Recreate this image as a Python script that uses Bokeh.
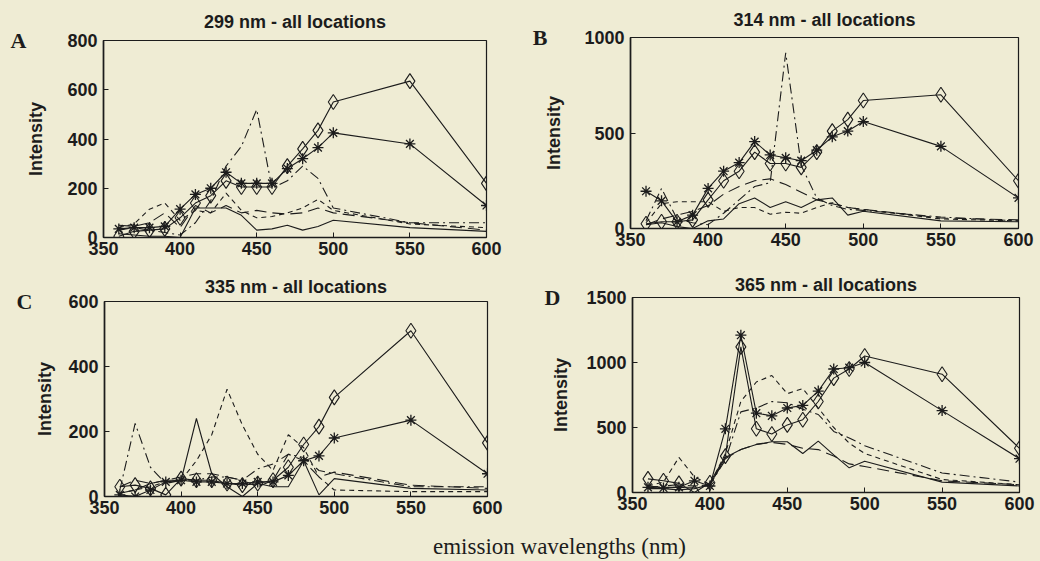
import math
from bokeh.plotting import figure
from bokeh.models import FixedTicker, Div, Range1d, LinearAxis
from bokeh.layouts import column, row
from bokeh.embed import file_html
from bokeh.resources import INLINE

# ---------------- data ----------------
wl = [360, 370, 380, 390, 400, 410, 420, 430, 440, 450, 460, 470, 480, 490, 500, 550, 600]
x_ticks = [350, 400, 450, 500, 550, 600]

titles = ["299 nm - all locations", "314 nm - all locations",
          "335 nm - all locations", "365 nm - all locations"]
letters = ["A", "B", "C", "D"]
y_max = [800, 1000, 600, 1500]
y_ticks = [[0, 200, 400, 600, 800], [0, 500, 1000], [0, 200, 400, 600], [0, 500, 1000, 1500]]

# panel A (299 nm)
a_diamond = [5, 25, 30, 35, 80, 140, 170, 230, 205, 205, 205, 290, 360, 435, 550, 635, 220]
a_star = [35, 40, 40, 45, 115, 175, 200, 265, 220, 220, 220, 280, 320, 365, 425, 380, 130]
a_solid = [15, 10, 5, 5, 0, 120, 120, 120, 90, 30, 35, 50, 30, 45, 70, 40, 25]
a_dashed = [40, 55, 115, 140, 70, 110, 100, 180, 110, 80, 85, 100, 120, 155, 110, 55, 40]
a_dashdot = [30, 40, 30, 20, 10, 60, 150, 290, 370, 520, 200, 230, 290, 240, 120, 60, 60]
a_longdash = [50, 45, 60, 100, 40, 130, 100, 130, 100, 110, 100, 95, 100, 120, 100, 60, 30]

# panel B (314 nm)
b_diamond = [25, 35, 35, 45, 150, 250, 300, 400, 340, 340, 320, 400, 510, 570, 670, 700, 250]
b_star = [195, 145, 35, 70, 210, 300, 345, 455, 385, 370, 355, 410, 480, 510, 560, 430, 160]
b_solid = [20, 30, 10, 0, 40, 50, 130, 160, 110, 140, 110, 150, 160, 70, 90, 40, 35]
b_dashed = [30, 130, 140, 140, 140, 90, 110, 110, 75, 85, 80, 110, 135, 110, 100, 50, 40]
b_dashdot = [40, 210, 50, 30, 20, 80, 150, 220, 240, 920, 330, 160, 120, 100, 95, 60, 40]
b_longdash = [20, 50, 70, 90, 120, 180, 220, 250, 260, 230, 190, 150, 130, 110, 100, 55, 45]

# panel C (335 nm)
c_diamond = [30, 35, 25, 5, 55, 50, 50, 40, 35, 40, 50, 90, 160, 215, 305, 510, 165]
c_star = [5, 0, 20, 45, 50, 45, 45, 40, 40, 45, 45, 65, 110, 125, 180, 235, 70]
c_solid = [10, 20, 40, 50, 50, 240, 70, 30, 0, 40, 30, 30, 110, 5, 55, 25, 20]
c_dashed = [10, 20, 30, 45, 50, 110, 190, 330, 220, 130, 80, 190, 150, 60, 20, 15, 15]
c_dashdot = [20, 225, 90, 40, 50, 50, 60, 60, 50, 85, 100, 130, 120, 80, 70, 30, 30]
c_longdash = [30, 50, 40, 50, 60, 70, 70, 60, 50, 30, 50, 130, 110, 60, 75, 35, 25]

# panel D (365 nm)
d_diamond = [105, 90, 70, 0, 75, 280, 1120, 490, 450, 520, 560, 700, 880, 950, 1050, 910, 340]
d_star = [40, 35, 40, 90, 50, 490, 1210, 610, 590, 650, 670, 780, 950, 960, 1000, 630, 260]
d_solid = [30, 30, 20, 30, 60, 270, 330, 370, 390, 390, 300, 395, 290, 190, 240, 80, 50]
d_dashed = [50, 80, 270, 120, 60, 300, 700, 850, 900, 760, 800, 650, 500, 380, 300, 100, 60]
d_dashdot = [40, 50, 60, 50, 60, 250, 620, 650, 700, 690, 640, 600, 470, 420, 360, 150, 80]
d_longdash = [50, 40, 40, 40, 60, 260, 330, 370, 385, 370, 340, 330, 280, 220, 200, 90, 60]

panels = [
    (a_diamond, a_star, a_solid, a_dashed, a_dashdot, a_longdash),
    (b_diamond, b_star, b_solid, b_dashed, b_dashdot, b_longdash),
    (c_diamond, c_star, c_solid, c_dashed, c_dashdot, c_longdash),
    (d_diamond, d_star, d_solid, d_dashed, d_dashdot, d_longdash),
]

# ---------------- styling / layout ----------------
BG = "#efecd4"
INK = "#1c1c1c"
SANS = "Liberation Sans"
SERIF = "Liberation Serif"

# (width, height, left, right, top, bottom)
geom = [
    (520, 270, 103, 34, 40, 33),
    (520, 270, 110, 22, 36, 42),
    (520, 261, 104, 33, 30, 35),
    (520, 261, 112, 21, 26, 39),
]
title_standoff = [18, 15, 9, 5]
letter_standoff = [-3, -6, 0, -12]
ylab_standoff = [18, 17, 10, 12]


def make_panel(i):
    w, h, bl, br, bt, bb = geom[i]
    ymax = y_max[i]
    p = figure(width=w, height=h, output_backend="svg", toolbar_location=None,
               x_range=Range1d(350, 600), y_range=Range1d(0, ymax),
               min_border_left=bl, min_border_right=br,
               min_border_top=bt, min_border_bottom=bb,
               background_fill_color=BG, border_fill_color=BG)
    p.frame_align = False
    p.grid.visible = False
    p.outline_line_color = INK
    p.outline_line_width = 1.2

    for ax in (p.xaxis[0], p.yaxis[0]):
        ax.axis_line_color = INK
        ax.axis_line_width = 1.6
        ax.major_tick_in = 5
        ax.major_tick_out = 0
        ax.minor_tick_line_color = None
        ax.major_tick_line_color = INK
        ax.major_label_text_font = SANS
        ax.major_label_text_font_size = "18px"
        ax.major_label_text_font_style = "bold"
        ax.major_label_text_color = INK
    p.xaxis[0].ticker = FixedTicker(ticks=x_ticks)
    p.yaxis[0].ticker = FixedTicker(ticks=y_ticks[i])
    p.xaxis[0].major_label_standoff = 4
    p.yaxis[0].major_label_standoff = 6

    yax = p.yaxis[0]
    yax.axis_label = "Intensity"
    yax.axis_label_text_font = SANS
    yax.axis_label_text_font_size = "18px"
    yax.axis_label_text_font_style = "bold"
    yax.axis_label_text_color = INK
    yax.axis_label_standoff = ylab_standoff[i]

    # panel letter: a bare outer axis whose only tick label sits at the frame top
    lax = LinearAxis(ticker=FixedTicker(ticks=[ymax]),
                     major_label_overrides={ymax: letters[i]},
                     axis_line_color=None, major_tick_line_color=None,
                     minor_tick_line_color=None, major_tick_in=0, major_tick_out=0,
                     major_label_standoff=letter_standoff[i],
                     major_label_text_font=SERIF, major_label_text_font_size="22px",
                     major_label_text_font_style="bold", major_label_text_color=INK)
    p.add_layout(lax, "left")

    diamond, star, solid, dashed, dashdot, longdash = panels[i]
    lw = 1.1
    p.line(wl, solid, line_color=INK, line_width=lw)
    p.line(wl, dashed, line_color=INK, line_width=lw, line_dash="5 4")
    p.line(wl, dashdot, line_color=INK, line_width=lw, line_dash="10 4 2 4")
    p.line(wl, longdash, line_color=INK, line_width=lw, line_dash="12 6")
    p.line(wl, diamond, line_color=INK, line_width=lw)
    p.scatter(wl, diamond, marker="diamond", size=15, line_color=INK,
              line_width=1.1, fill_alpha=0)
    p.line(wl, star, line_color=INK, line_width=lw)
    p.scatter(wl, star, marker="asterisk", size=11, line_color=INK, line_width=1.3)

    p.title.text = titles[i]
    p.title.align = "center"
    p.title.text_font = SANS
    p.title.text_font_size = "18px"
    p.title.text_font_style = "bold"
    p.title.text_color = INK
    p.title.standoff = title_standoff[i]
    return p


figs = [make_panel(i) for i in range(4)]

xlabel = Div(
    text=('<div style="padding-left:433px; padding-top:3px; font-family:\'Liberation Serif\';'
          ' font-size:23px; line-height:25px; color:#1c1c1c; white-space:nowrap;">'
          'emission wavelengths (nm)</div>'),
    width=1040, height=30,
    styles={"background-color": BG, "margin": "0px"},
)

layout = column(row(figs[0], figs[1]), row(figs[2], figs[3]), xlabel,
                styles={"background-color": BG})

open("out.html", "w").write(file_html(layout, INLINE))
